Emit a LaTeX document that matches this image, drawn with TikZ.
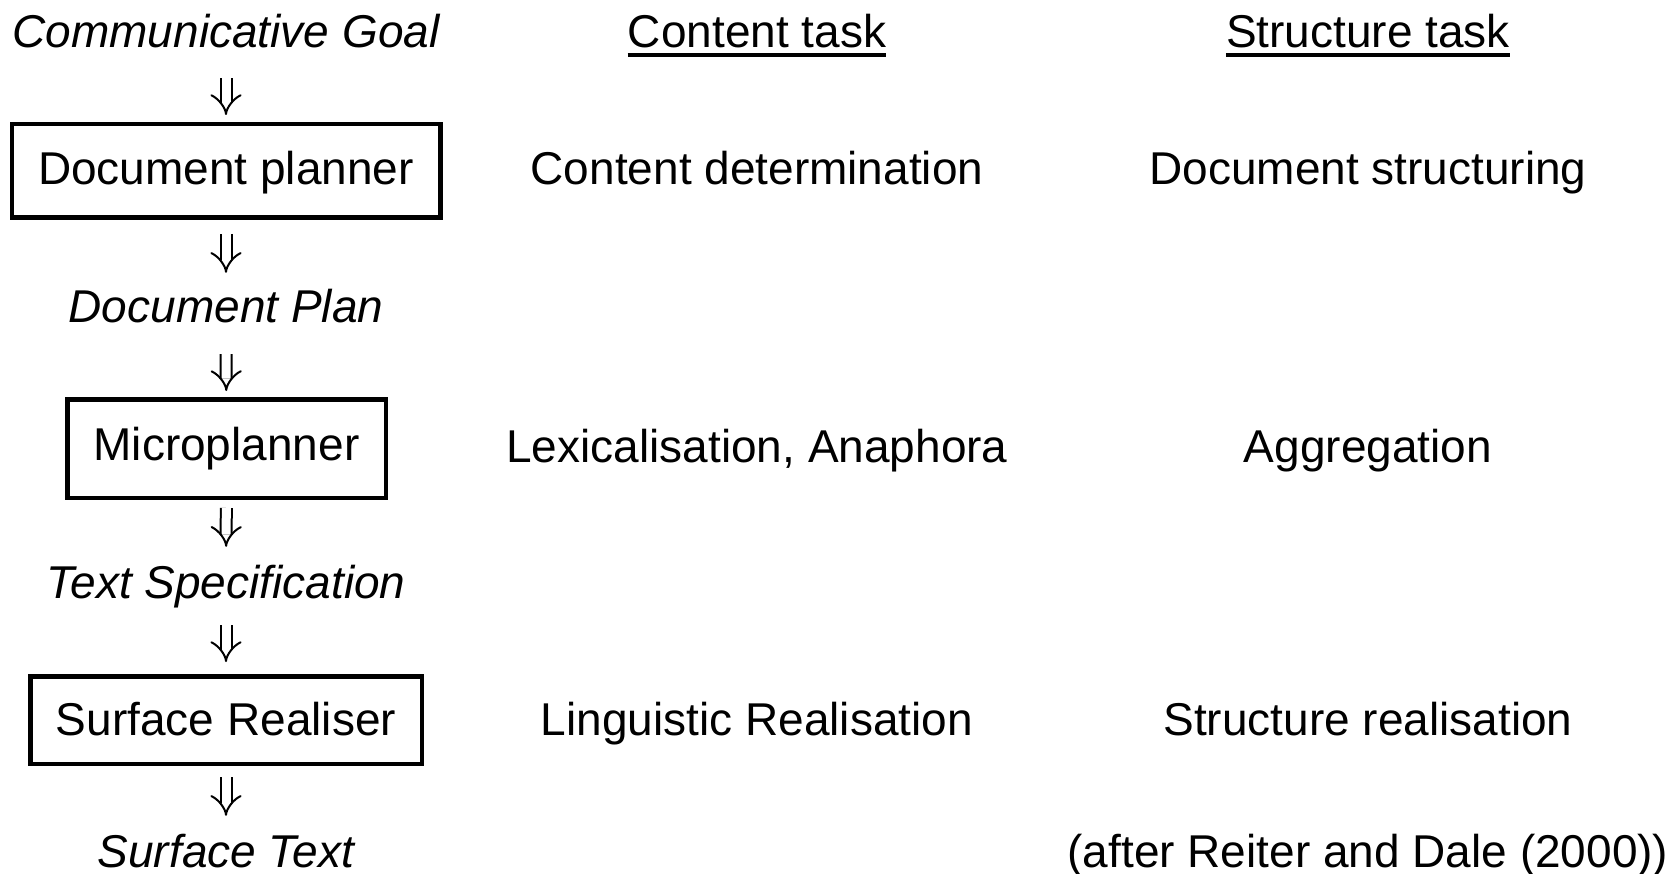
\documentclass[tikz,border=0pt]{standalone}
\usepackage{fontspec}
\setmainfont{Liberation Sans}
\usetikzlibrary{arrows.meta}

\begin{document}
\begin{tikzpicture}[x=1pt,y=-1pt,
  every node/.style={font=\fontsize{46}{55}\selectfont},
  lbl/.style={inner sep=0pt,text height=33pt,text depth=10pt,anchor=base},
  stage/.style={draw,line width=4.5pt,inner sep=0pt,text height=33pt,text depth=9pt},
  darr/.style={double,line width=2pt,double distance=9pt,-{Implies[scale=1.25]}},
  gap/.style 2 args={shorten <=#1pt,shorten >=#2pt},
  uline/.style={line width=3.5pt}
]
\useasboundingbox (0,0) rectangle (1675,874);

% pipeline column
\node[lbl,font=\fontsize{46}{55}\selectfont\itshape] (cg) at (226,48) {Communicative Goal};
\node[stage,text depth=5pt,minimum width=428.5pt,minimum height=93.5pt] (dp) at (226,171) {Document planner};
\node[lbl,font=\fontsize{46}{55}\selectfont\itshape] (dplan) at (226,323) {Document Plan};
\node[stage,minimum width=318.5pt,minimum height=98.5pt] (mp) at (226.5,448.5) {Microplanner};
\node[lbl,font=\fontsize{46}{55}\selectfont\itshape] (ts) at (226,598) {Text Specification};
\node[stage,text depth=2pt,minimum width=391.5pt,minimum height=87.5pt] (sr) at (226,720) {Surface Realiser};
\node[lbl,font=\fontsize{46}{55}\selectfont\itshape] (st) at (226,867) {Surface Text};

\draw[darr,gap={20}{7}] (cg) -- (dp);
\draw[darr,gap={14}{17}] (dp) -- (dplan);
\draw[darr,gap={21}{6}] (dplan) -- (mp);
\draw[darr,gap={8}{18}] (mp) -- (ts);
\draw[darr,gap={17}{12}] (ts) -- (sr);
\draw[darr,gap={11}{18}] (sr) -- (st);

% content tasks
\node[lbl] (ct) at (757,48) {Content task};
\draw[uline] ([yshift=-7pt]ct.base west) -- ([yshift=-7pt]ct.base east);
\node[lbl] (cd) at (757,185) {Content determination};
\node[lbl] (la) at (757,462) {Lexicalisation, Anaphora};
\node[lbl] (lr) at (757,735) {Linguistic Realisation};

% structure tasks
\node[lbl] (stk) at (1368,48) {Structure task};
\draw[uline] ([yshift=-7pt]stk.base west) -- ([yshift=-7pt]stk.base east);
\node[lbl] (ds) at (1368,185) {Document structuring};
\node[lbl] (ag) at (1368,462) {Aggregation};
\node[lbl] (sre) at (1368,735) {Structure realisation};
\node[lbl] (src) at (1368,867) {(after Reiter and Dale (2000))};
\end{tikzpicture}
\end{document}
